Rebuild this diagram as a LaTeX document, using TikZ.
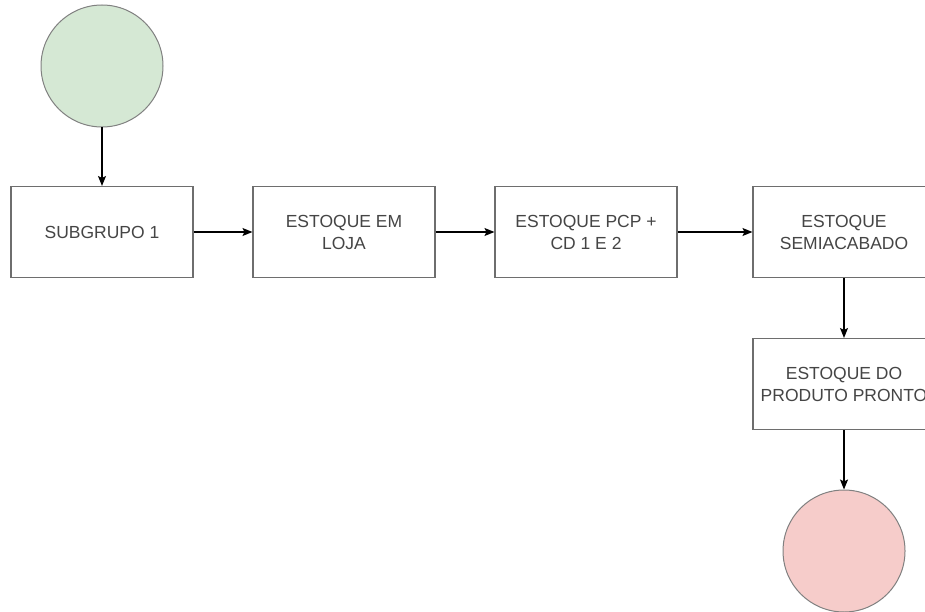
\documentclass[tikz,border=0pt]{standalone}
\usepackage{fontspec}
\setmainfont{Liberation Sans}
\usepackage{tikz}
\usetikzlibrary{arrows.meta}
\definecolor{boxline}{HTML}{6E6E6E}
\definecolor{txt}{HTML}{454545}
\definecolor{startfill}{HTML}{D5E8D4}
\definecolor{endfill}{HTML}{F6CCCA}
\begin{document}
\begin{tikzpicture}[x=1pt,y=-1pt,stock/.style={shape=rectangle,draw=boxline,line width=1.1pt,minimum width=182pt,minimum height=91pt,align=center,text=txt,font=\fontsize{17.5}{22}\selectfont},term/.style={shape=circle,draw=gray,line width=1pt,minimum size=122pt,inner sep=0pt},termS/.style={term,fill=startfill},termE/.style={term,fill=endfill},flow/.style={-{Stealth[length=10pt,width=8pt,inset=2pt]},line width=1.3pt,black}]
\def\dy{232};
\def\dxa{102};
\def\dxb{344};
\def\dxc{586};
\def\dxd{844};

\useasboundingbox (0,0) rectangle (925,612);
\clip (0,0) rectangle (925,612);
\fill[white] (0,0) rectangle (925,612);

\node[termS] (S) at (\dxa,66) {};

\node[stock] (B1) at (\dxa,\dy) {SUBGRUPO 1};
\draw[flow] (S.south) -- (B1.north);
\node[stock] (B2) at (\dxb,\dy) {ESTOQUE EM\\LOJA};
\draw[flow] (B1.east) -- (B2.west);
\node[stock] (B3) at (\dxc,\dy) {ESTOQUE PCP +\\CD 1 E 2};
\draw[flow] (B2.east) -- (B3.west);
\node[stock] (B4) at (\dxd,\dy) {ESTOQUE\\SEMIACABADO};
\draw[flow] (B3.east) -- (B4.west);

\node[stock] (B5) at (\dxd,384) {ESTOQUE DO\\PRODUTO PRONTO};
\draw[flow] (B4.south) -- (B5.north);

\node[termE] (E) at (\dxd,551) {};
\draw[flow] (B5.south) -- (E.north);

\end{tikzpicture}
\end{document}
